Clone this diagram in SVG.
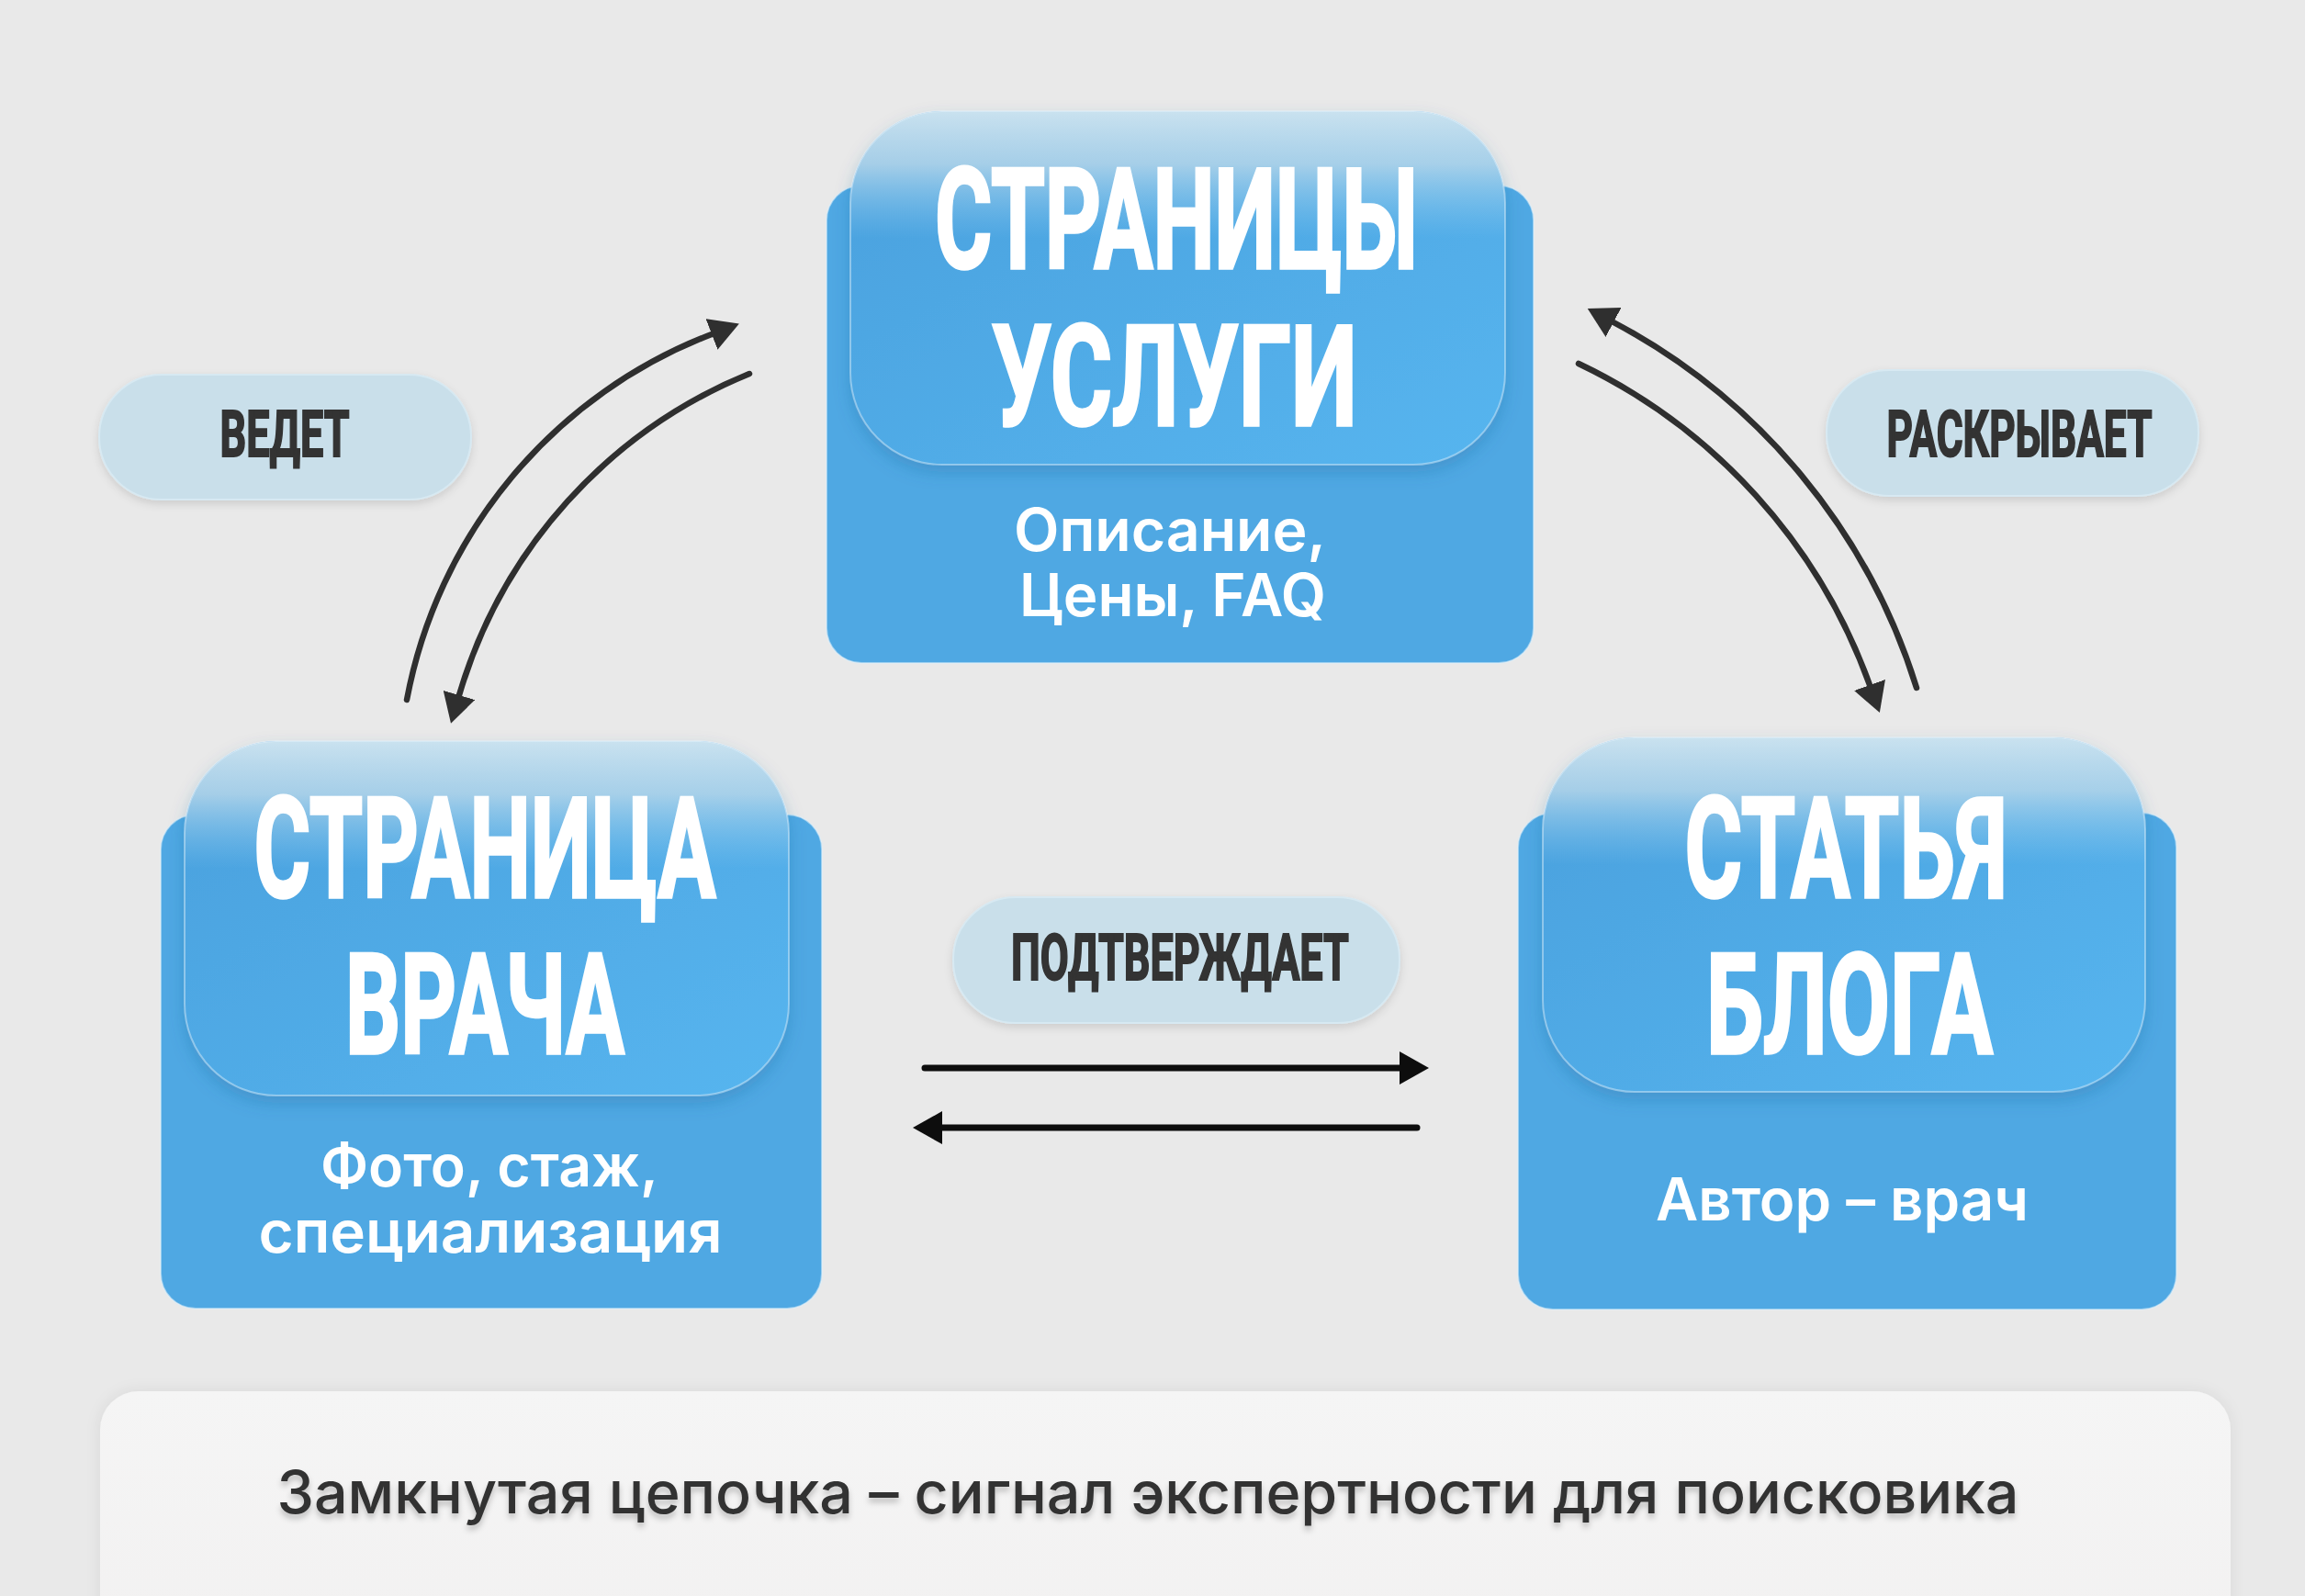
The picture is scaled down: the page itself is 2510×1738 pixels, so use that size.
<svg xmlns="http://www.w3.org/2000/svg" width="2510" height="1738" viewBox="0 0 2510 1738">
<defs>
<style>
.back{fill:#4fa8e3;stroke:#dff1fb;stroke-width:2;stroke-opacity:.55}
.front{fill:url(#frontBase);filter:url(#cardShadow)}
.gloss{fill:url(#gloss)}
.rim{fill:none;stroke:#e6f4fc;stroke-width:2;stroke-opacity:.45}
.title{font-family:Roboto,"Liberation Sans",sans-serif;font-weight:700;font-size:152px;fill:#fff;stroke:#fff;stroke-width:3.5;stroke-linejoin:miter;text-anchor:middle}
.sub{font-family:Inter,"Noto Sans",sans-serif;font-weight:600;font-size:64px;fill:#fff;text-anchor:middle}
.pill{fill:#c9dfea;stroke:#d7e9f2;stroke-width:2;filter:url(#softShadow)}
.ptext{font-family:Roboto,"Liberation Sans",sans-serif;font-weight:700;font-size:70px;fill:#333;stroke:#333;stroke-width:2;text-anchor:middle}
.curve{fill:none;stroke:#2f2f2f;stroke-width:6.5;stroke-linecap:round;marker-end:url(#headDark)}
.straight{fill:none;stroke:#0d0d0d;stroke-width:7;stroke-linecap:round;marker-end:url(#headBlack)}
.note{font-family:Inter,"Noto Sans",sans-serif;font-weight:500;font-size:64px;fill:#333;text-anchor:middle;filter:url(#textShadow)}
</style>
<linearGradient id="frontBase" x1="0" y1="0" x2="1" y2="1">
<stop offset="0" stop-color="#4aa0dd"/>
<stop offset="1" stop-color="#56b5ef"/>
</linearGradient>
<linearGradient id="gloss" x1="0" y1="0" x2="0" y2="1">
<stop offset="0" stop-color="#d0e5f0" stop-opacity=".95"/>
<stop offset=".15" stop-color="#bcd9ea" stop-opacity=".8"/>
<stop offset=".36" stop-color="#8ccaef" stop-opacity="0"/>
<stop offset="1" stop-color="#8ccaef" stop-opacity="0"/>
</linearGradient>
<linearGradient id="panelFill" x1="0" y1="0" x2="0" y2="1">
<stop offset="0" stop-color="#f5f5f5"/>
<stop offset="1" stop-color="#f2f1f1"/>
</linearGradient>
<filter id="cardShadow" x="-10%" y="-10%" width="120%" height="130%">
<feDropShadow dx="0" dy="8" stdDeviation="9" flood-color="#1b5f90" flood-opacity=".28"/>
</filter>
<filter id="softShadow" x="-10%" y="-20%" width="120%" height="150%">
<feDropShadow dx="0" dy="4" stdDeviation="5" flood-color="#000" flood-opacity=".12"/>
</filter>
<filter id="panelShadow" x="-5%" y="-20%" width="110%" height="140%">
<feDropShadow dx="0" dy="0" stdDeviation="8" flood-color="#000" flood-opacity=".08"/>
</filter>
<filter id="textShadow" x="-5%" y="-30%" width="110%" height="170%">
<feDropShadow dx="0" dy="5" stdDeviation="3" flood-color="#000" flood-opacity=".22"/>
</filter>
<marker id="headDark" viewBox="0 0 32 36" refX="0" refY="18" markerWidth="32" markerHeight="36" markerUnits="userSpaceOnUse" orient="auto">
<path d="M0,0 L32,18 L0,36 z" fill="#2f2f2f"/>
</marker>
<marker id="headBlack" viewBox="0 0 32 36" refX="0" refY="18" markerWidth="32" markerHeight="36" markerUnits="userSpaceOnUse" orient="auto">
<path d="M0,0 L32,18 L0,36 z" fill="#0d0d0d"/>
</marker>
</defs>

<rect x="0" y="0" width="2510" height="1738" fill="#e9e9e9"/>

<g id="connectors">
<path class="curve" d="M443,762 A531,531 0 0 1 775,364"/>
<path class="curve" d="M816,407 A543,543 0 0 0 500,757"/>
<path class="curve" d="M2087,749 A678,678 0 0 0 1757,351"/>
<path class="curve" d="M1719,396 A620,620 0 0 1 2036,746"/>
<path class="straight" d="M1007,1163 L1524,1163"/>
<path class="straight" d="M1543,1228 L1026,1228"/>
</g>

<g id="node-services">
<rect class="back" x="900" y="202" width="770" height="520" rx="38"/>
<rect class="front" x="926" y="121" width="713" height="385" rx="100"/>
<rect class="gloss" x="926" y="121" width="713" height="385" rx="100"/>
<rect class="rim" x="926" y="121" width="713" height="385" rx="100"/>
<text class="title" x="1281" y="292" textLength="526" lengthAdjust="spacingAndGlyphs">СТРАНИЦЫ</text>
<text class="title" x="1279" y="463" textLength="398" lengthAdjust="spacingAndGlyphs">УСЛУГИ</text>
<text class="sub" x="1274" y="600" textLength="340" lengthAdjust="spacingAndGlyphs">Описание,</text>
<text class="sub" x="1277" y="671" textLength="334" lengthAdjust="spacingAndGlyphs">Цены, FAQ</text>
</g>

<g id="node-doctor">
<rect class="back" x="175" y="887" width="720" height="538" rx="38"/>
<rect class="front" x="201" y="807" width="658" height="386" rx="100"/>
<rect class="gloss" x="201" y="807" width="658" height="386" rx="100"/>
<rect class="rim" x="201" y="807" width="658" height="386" rx="100"/>
<text class="title" x="528" y="977" textLength="503" lengthAdjust="spacingAndGlyphs">СТРАНИЦА</text>
<text class="title" x="528" y="1147" textLength="304" lengthAdjust="spacingAndGlyphs">ВРАЧА</text>
<text class="sub" x="533" y="1292" textLength="368" lengthAdjust="spacingAndGlyphs">Фото, стаж,</text>
<text class="sub" x="534" y="1364" textLength="505" lengthAdjust="spacingAndGlyphs">специализация</text>
</g>

<g id="node-blog">
<rect class="back" x="1653" y="885" width="717" height="541" rx="38"/>
<rect class="front" x="1680" y="803" width="656" height="386" rx="100"/>
<rect class="gloss" x="1680" y="803" width="656" height="386" rx="100"/>
<rect class="rim" x="1680" y="803" width="656" height="386" rx="100"/>
<text class="title" x="2010" y="977" textLength="351" lengthAdjust="spacingAndGlyphs">СТАТЬЯ</text>
<text class="title" x="2014" y="1147" textLength="312" lengthAdjust="spacingAndGlyphs">БЛОГА</text>
<text class="sub" x="2006" y="1329" textLength="406" lengthAdjust="spacingAndGlyphs">Автор – врач</text>
</g>

<g id="label-vedet">
<rect class="pill" x="108" y="408" width="405" height="136" rx="68"/>
<text class="ptext" x="310" y="497" textLength="141" lengthAdjust="spacingAndGlyphs">ВЕДЕТ</text>
</g>

<g id="label-raskryvaet">
<rect class="pill" x="1989" y="403" width="405" height="137" rx="68"/>
<text class="ptext" x="2199" y="497" textLength="289" lengthAdjust="spacingAndGlyphs">РАСКРЫВАЕТ</text>
</g>

<g id="label-podtverzhdaet">
<rect class="pill" x="1038" y="977" width="486" height="137" rx="68"/>
<text class="ptext" x="1285" y="1067" textLength="368" lengthAdjust="spacingAndGlyphs">ПОДТВЕРЖДАЕТ</text>
</g>

<g id="summary">
<rect x="109" y="1515" width="2320" height="280" rx="42" fill="url(#panelFill)" filter="url(#panelShadow)"/>
<text class="note" x="1250" y="1648" textLength="1897" lengthAdjust="spacingAndGlyphs">Замкнутая цепочка – сигнал экспертности для поисковика</text>
</g>
</svg>
